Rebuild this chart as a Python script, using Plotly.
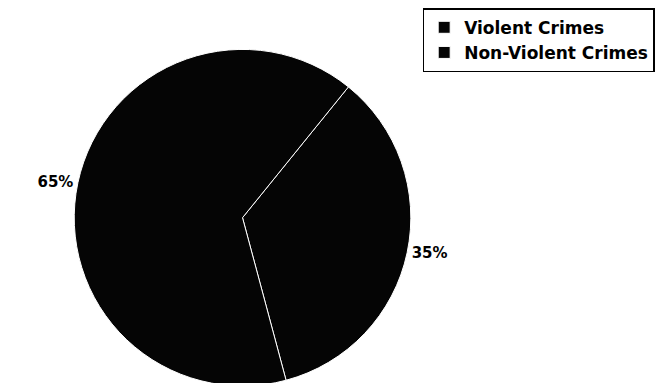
import plotly.graph_objects as go

categories = ["Violent Crimes", "Non-Violent Crimes"]
shares = [35, 65]
slice_colors = ["#050505", "#050505"]

fig = go.Figure(go.Pie(
    labels=categories,
    values=shares,
    sort=False,
    direction="clockwise",
    rotation=39,
    marker=dict(colors=slice_colors, line=dict(color="white", width=1)),
    textinfo="percent",
    texttemplate="%{percent:.0%}",
    textposition="outside",
    outsidetextfont=dict(family="DejaVu Sans", size=15, color="black", weight="bold"),
    domain=dict(x=[0.096, 0.603], y=[0.0, 0.9]),
    showlegend=True,
))

fig.update_layout(
    width=671, height=383,
    margin=dict(l=0, r=0, t=0, b=0),
    paper_bgcolor="white", plot_bgcolor="white",
    legend=dict(
        x=0.618, y=1.01, xanchor="left", yanchor="top",
        bordercolor="black", borderwidth=1.5, bgcolor="white",
        font=dict(family="DejaVu Sans", size=17, color="black", weight="bold"),
        itemwidth=30, tracegroupgap=0,
    ),
)

fig.write_html("out.html")
